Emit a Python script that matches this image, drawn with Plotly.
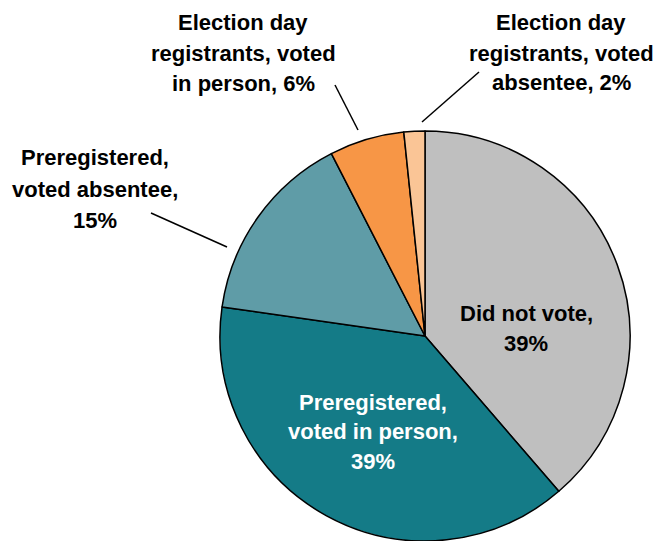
import plotly.graph_objects as go

W, H = 655, 541

categories = [
    "Did not vote",
    "Preregistered, voted in person",
    "Preregistered, voted absentee",
    "Election day registrants, voted in person",
    "Election day registrants, voted absentee",
]
values = [38.7, 38.6, 15.2, 5.9, 1.65]
pct_labels = ["39%", "39%", "15%", "6%", "2%"]
colors = ["#BFBFBF", "#147B87", "#5F9CA7", "#F79646", "#FAC596"]

FONT = "Liberation Sans, Arial, sans-serif"

def px(x, y):
    return x / W, 1 - y / H

cx, cy, r = 425, 336, 205
fig = go.Figure(go.Pie(
    labels=categories,
    values=values,
    sort=False,
    direction="clockwise",
    rotation=0,
    marker=dict(colors=colors, line=dict(color="black", width=1.5)),
    textinfo="none",
    hoverinfo="label+value",
    domain=dict(x=[(cx - r) / W, (cx + r) / W], y=[max(0, (H - cy - r) / H), (H - cy + r) / H]),
    showlegend=False,
))

# label lines: (text lines, center x, first-line y, line spacing, colour)
label_specs = [
    (["Did not vote,", pct_labels[0]], 526, 313, 30.5, "black"),
    (["Preregistered,", "voted in person,", pct_labels[1]], 373, 402, 29.5, "white"),
    (["Preregistered,", "voted absentee,", pct_labels[2]], 95, 158, 31, "black"),
    (["Election day", "registrants, voted", "in person, " + pct_labels[3]], 243, 23, 30.5, "black"),
    (["Election day", "registrants, voted", "absentee, " + pct_labels[4]], 561, 23, 30, "black"),
]
annotations = []
for lines, x, y0, dy, col in label_specs:
    for i, t in enumerate(lines):
        ax_, ay_ = px(x, y0 + i * dy)
        annotations.append(dict(
            text="<b>" + t + "</b>", x=ax_, y=ay_, xref="paper", yref="paper",
            xanchor="center", yanchor="middle", showarrow=False, align="center",
            font=dict(family=FONT, size=22, color=col),
        ))

leaders = [((227, 247), (151, 213)), ((358, 130), (335, 85)), ((422, 122), (479, 72))]
shapes = []
for (x0, y0), (x1, y1) in leaders:
    a0, b0 = px(x0, y0)
    a1, b1 = px(x1, y1)
    shapes.append(dict(type="line", xref="paper", yref="paper", x0=a0, y0=b0, x1=a1, y1=b1,
                       line=dict(color="black", width=1.5)))

fig.update_layout(
    width=W, height=H,
    margin=dict(l=0, r=0, t=0, b=0),
    paper_bgcolor="white", plot_bgcolor="white",
    annotations=annotations, shapes=shapes,
)
fig.write_html("out.html", post_script="document.body.style.margin='0';",
               config={"displayModeBar": False})
